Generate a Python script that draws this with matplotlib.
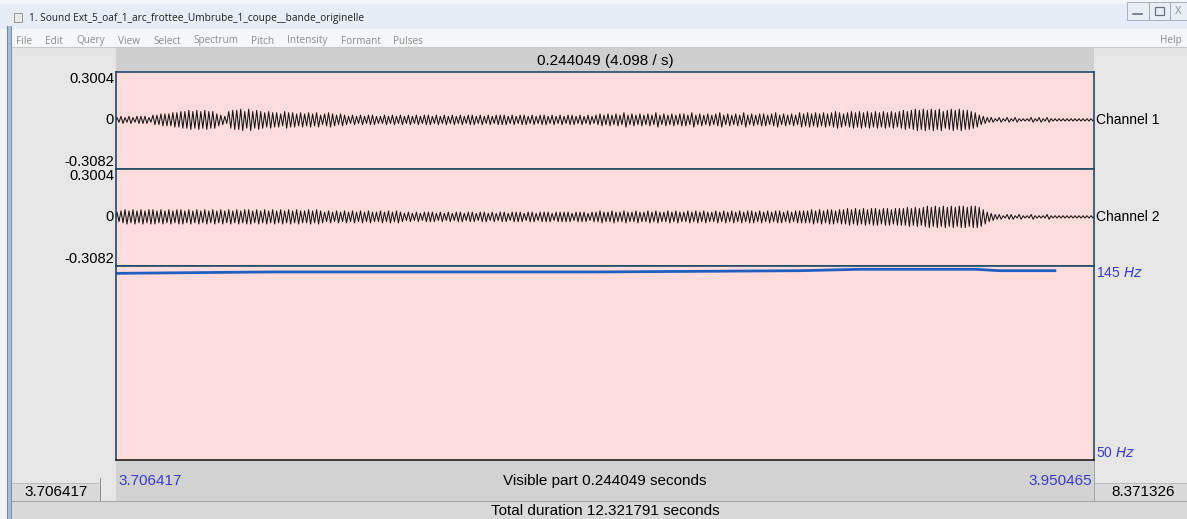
import numpy as np
import matplotlib
matplotlib.use('Agg')
import matplotlib.pyplot as plt
from matplotlib.patches import Rectangle

# visible window (seconds)
t_start = 3.706417
t_end = 3.950465
visible = 0.244049
total = 12.321791
left_box = 3.706417
right_box = 8.371326

# channel ranges
ch_top = 0.3004
ch_bottom = -0.3082

# peak of each cycle (1 unit = 0.0075)
peak_unit = 0.0075
ch1_peaks = [
    2, 3, 2, 3, 2, 3, 3, 3, 2,
    4, 4, 5, 5, 5, 6, 6,
    7, 7, 8, 7, 8, 7, 8, 7, 7,
    5, 4, 3,
    7, 8, 8, 9, 7, 9, 7, 8, 7,
    6, 7, 6, 6, 5, 7, 6, 6, 5, 6,
    5, 6, 5, 6, 4, 5, 6, 5, 4, 5,
    4, 3, 4, 3, 4, 3, 4, 4, 3, 3, 4, 3, 4, 3, 4,
    3, 4, 3, 4, 3, 4, 4, 3, 4, 3, 4, 3, 4, 3, 4, 3, 4, 4, 3, 4,
    3, 4, 3, 4, 4, 4, 3, 4, 3, 4, 4, 3, 4, 3, 4, 4, 3, 4, 3, 4,
    3, 4, 4, 3, 4, 3, 4, 3, 4, 5,
    4, 5, 4, 5, 4, 6, 4, 5, 4, 5, 4, 5, 4, 6, 4, 5, 4, 5, 4, 5,
    5, 4, 6, 4, 5, 4, 5, 4, 5, 6, 4, 5, 4, 5, 4, 6, 4, 5, 4, 5,
    5, 4, 5, 6, 4, 5, 4, 5, 4, 6,
    5, 6, 5, 6, 5, 6, 5, 6, 7, 6, 5, 6, 7, 6, 7, 6, 7, 6, 7, 6,
    7, 6, 7, 6, 7,
    8, 7, 8, 9, 8, 9, 8, 9, 8, 9, 7, 8, 9, 8, 9, 8, 8, 7,
    6, 4, 3, 2,
    2, 1, 2, 1, 2, 1, 2, 1, 1, 1, 2, 1, 2, 1, 2, 1, 1, 1, 1, 1,
    1, 1, 1, 1, 1, 1,
]
ch2_peaks = [
    4, 5, 6, 5, 6, 5, 6, 5, 6,
    6, 5, 6, 5, 6, 5, 6,
    6, 5, 6, 5, 6, 5, 6, 5, 6,
    5, 6, 5,
    6, 5, 6, 5, 6, 6, 5, 6, 5,
    6, 5, 6, 5, 6, 5, 6, 5, 6, 5,
    5, 6, 5, 6, 5, 4, 5, 4, 5, 4,
    5, 4, 5, 4, 5, 4, 5, 4, 4, 5, 4, 5, 4, 5, 4,
    3, 4, 3, 4, 3, 4, 4, 4, 3, 4, 3, 4, 3, 4, 4, 3, 4, 4, 3, 4,
    4, 3, 4, 3, 4, 4, 3, 4, 4, 4, 3, 4, 4, 3, 4, 4, 4, 3, 4, 4,
    4, 4, 3, 4, 4, 4, 3, 4, 4, 5,
    4, 4, 5, 4, 4, 5, 4, 4, 5, 4, 4, 5, 4, 5, 4, 4, 5, 4, 5, 4,
    4, 5, 4, 5, 4, 5, 4, 4, 5, 4, 5, 4, 5, 4, 5, 4, 5, 5, 4, 5,
    4, 5, 4, 5, 5, 4, 5, 4, 5, 5,
    5, 5, 6, 5, 6, 5, 6, 6, 5, 6, 6, 7, 6, 7, 6, 7, 6, 7, 7, 6,
    7, 7, 6, 7, 7,
    7, 8, 7, 8, 7, 8, 9, 8, 9, 8, 9, 8, 9, 8, 9, 9, 8, 9,
    9, 8, 6, 4,
    3, 2, 2, 1, 2, 2, 1, 2, 1, 1, 2, 1, 1, 1, 2, 1, 1, 1, 1, 1,
    1, 1, 1, 1, 1, 1,
]

# pitch track
pitch_times = [3.7064, 3.7456, 3.7773, 3.8272, 3.8771, 3.8921, 3.9207, 3.9270, 3.9407]
pitch_hz = [141.4, 142.1, 142.1, 142.1, 142.7, 143.4, 143.4, 142.7, 142.7]
pitch_min, pitch_max = 50, 145

title = "1. Sound Ext_5_oaf_1_arc_frottee_Umbrube_1_coupe__bande_originelle"
menu_items = ["File", "Edit", "Query", "View", "Select", "Spectrum",
              "Pitch", "Intensity", "Formant", "Pulses"]
menu_x = [16, 45, 76, 118, 153, 193, 251, 287, 341, 393]

W, H = 1187, 519
PINK = '#ffdcdc'
FRAME = '#1f4a66'
BLUE_TXT = '#3a3ad0'
plt.rcParams['font.family'] = ['Liberation Sans', 'DejaVu Sans']

fig = plt.figure(figsize=(W / 100, H / 100), dpi=100)
fig.patch.set_facecolor('#e6e6e6')


def rect(x0, y0, x1, y1):
    return [x0 / W, 1 - y1 / H, (x1 - x0) / W, (y1 - y0) / H]


# window chrome, drawn in pixel coordinates
bg = fig.add_axes([0, 0, 1, 1])
bg.set_xlim(0, W)
bg.set_ylim(H, 0)
bg.axis('off')
bg.add_patch(Rectangle((0, 0), W, H, color='#f2f4f7', lw=0))
bg.add_patch(Rectangle((0, 4), W, 25, color='#e6edf6', lw=0))
bg.add_patch(Rectangle((10, 29), W, 18, color='#f4f6f8', lw=0))
bg.plot([10, W], [47, 47], color='#c8c8c8', lw=0.8)
bg.add_patch(Rectangle((7, 26), 4, H, color='#a9bdd6', lw=0))
bg.plot([7, 7], [26, H], color='#6f89ab', lw=0.8)
bg.plot([11, 11], [26, H], color='#7d93b0', lw=0.8)
bg.add_patch(Rectangle((11.5, 48), W, H - 48, color='#e6e6e6', lw=0))
bg.add_patch(Rectangle((116, 48), 978, 24, color='#cfcfcf', lw=0))
bg.add_patch(Rectangle((116, 460), 978, 41, color='#d2d2d2', lw=0))
bg.add_patch(Rectangle((11.5, 483), 88.5, 18, color='#dadada', lw=0))
bg.plot([100, 100], [478, 501], color='#8a8a8a', lw=0.7)
bg.add_patch(Rectangle((1094, 483), W - 1094, 18, color='#dadada', lw=0))
bg.add_patch(Rectangle((11.5, 501), W, H - 501, color='#d9d9d9', lw=0))
bg.plot([11.5, W], [501, 501], color='#a8a8a8', lw=0.8)
bg.plot([11.5, 100], [483, 483], color='#b5b5b5', lw=0.6)
bg.plot([1094, W], [483, 483], color='#b5b5b5', lw=0.6)
bg.plot([1094, 1094], [460, 501], color='#9a9a9a', lw=0.6)

# title bar and menu
bg.add_patch(Rectangle((14, 13), 8, 9, facecolor='#e8e8e8', edgecolor='#8a8a8a', lw=0.6))
bg.text(29, 18, title, fontsize=7.25, family='Open Sans', color='#202020', va='center')
for name, mx in zip(menu_items, menu_x):
    bg.text(mx, 43.5, name, fontsize=7.2, family='Open Sans', color='#8c8c8c', va='baseline')
bg.text(1182, 43.5, "Help", fontsize=7.2, family='Open Sans', color='#8c8c8c', va='baseline', ha='right')
for bx, bw in [(1127, 22), (1149, 21), (1170, 17)]:
    bg.add_patch(Rectangle((bx, 2), bw, 18, facecolor='#e9eef5', edgecolor='#9aa6b5', lw=0.6))
bg.plot([1133, 1142], [14, 14], color='#667080', lw=1.2)
bg.add_patch(Rectangle((1155, 7), 9, 8, facecolor='none', edgecolor='#667080', lw=0.9))
bg.text(1178, 11, "X", fontsize=7, color='#8090a0', ha='center', va='center')

bg.text(605, 61, f"{visible:.6f} ({1 / visible:.3f} / s)", fontsize=11, ha='center', va='center')
bg.text(118, 481, f"{t_start:.6f}", fontsize=11, color=BLUE_TXT, ha='left', va='center')
bg.text(1092, 481, f"{t_end:.6f}", fontsize=11, color=BLUE_TXT, ha='right', va='center')
bg.text(605, 481, f"Visible part {visible:.6f} seconds", fontsize=11, ha='center', va='center')
bg.text(56, 492, f"{left_box:.6f}", fontsize=11, ha='center', va='center')
bg.text(1143, 492, f"{right_box:.6f}", fontsize=11, ha='center', va='center')
bg.text(605, 511, f"Total duration {total:.6f} seconds", fontsize=11, ha='center', va='center')


def waveform(peaks):
    amps = np.array(peaks) * peak_unit
    n = len(amps)
    period = (t_end - t_start) / n
    t = [t_start]
    y = [0.0]
    for i, a in enumerate(amps):
        t += [t_start + (i + 0.25) * period, t_start + (i + 0.75) * period]
        y += [a, -a]
    t.append(t_end)
    y.append(0.0)
    return t, y


panels = [(ch1_peaks, "Channel 1", 72, 169), (ch2_peaks, "Channel 2", 169, 266)]
for peaks, label, y0, y1 in panels:
    ax = fig.add_axes(rect(116, y0, 1094, y1))
    ax.set_facecolor(PINK)
    t, y = waveform(peaks)
    ax.plot(t, y, color='#151515', lw=0.75)
    ax.set_xlim(t_start, t_end)
    ax.set_ylim(ch_bottom, ch_top)
    ax.set_xticks([])
    ax.set_yticks([])
    for s in ax.spines.values():
        s.set_color(FRAME)
        s.set_linewidth(1.2)
    tr = ax.get_yaxis_transform()
    ax.text(-0.002, ch_top, f"{ch_top:.4f}", transform=tr, fontsize=10.5, ha='right', va='top')
    ax.text(-0.002, 0, "0", transform=tr, fontsize=10.5, ha='right', va='center')
    ax.text(-0.002, ch_bottom, f"{ch_bottom:.4f}", transform=tr, fontsize=10.5, ha='right', va='bottom')
    ax.text(1.002, 0, label, transform=tr, fontsize=10, ha='left', va='center')

axp = fig.add_axes(rect(116, 266, 1094, 460))
axp.set_facecolor(PINK)
axp.plot(pitch_times, pitch_hz, color='#1f5fc0', lw=2)
axp.set_xlim(t_start, t_end)
axp.set_ylim(pitch_min, pitch_max)
axp.set_xticks([])
axp.set_yticks([])
for s in axp.spines.values():
    s.set_color(FRAME)
    s.set_linewidth(1.2)
axp.spines['bottom'].set_color('#202020')
trp = axp.get_yaxis_transform()
axp.text(1.002, pitch_max, f"{pitch_max} $\\it{{Hz}}$", transform=trp, fontsize=10,
         color=BLUE_TXT, ha='left', va='top')
axp.text(1.002, pitch_min, f"{pitch_min} $\\it{{Hz}}$", transform=trp, fontsize=10,
         color=BLUE_TXT, ha='left', va='bottom')

fig.savefig('out.png', dpi=100)
